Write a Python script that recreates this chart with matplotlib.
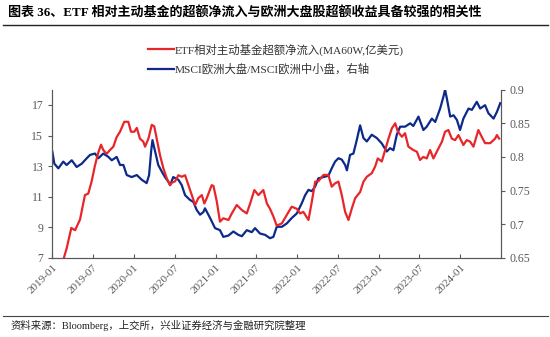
import matplotlib
matplotlib.use('Agg')
import matplotlib.pyplot as plt
import matplotlib.dates as mdates
import pandas as pd
from matplotlib.lines import Line2D

# ETF相对主动基金超额净流入(MA60W,亿美元)，左轴
etf_dates = ['2019-02-22', '2019-03-06', '2019-03-27', '2019-04-13', '2019-05-05', '2019-05-27',
             '2019-06-11', '2019-06-26', '2019-07-11', '2019-07-26', '2019-08-07', '2019-08-17',
             '2019-09-01', '2019-09-16', '2019-10-01', '2019-10-16', '2019-10-31', '2019-11-19',
             '2019-12-07', '2019-12-19', '2020-01-03', '2020-01-14', '2020-01-28', '2020-02-12',
             '2020-02-20', '2020-03-06', '2020-03-21', '2020-04-01', '2020-04-12', '2020-04-27',
             '2020-05-12', '2020-05-27', '2020-06-11', '2020-06-18', '2020-07-03', '2020-07-18',
             '2020-08-02', '2020-08-17', '2020-09-01', '2020-09-16', '2020-10-01', '2020-10-15',
             '2020-10-31', '2020-11-11', '2020-11-22', '2020-12-14', '2020-12-22', '2021-01-06',
             '2021-01-20', '2021-02-04', '2021-02-27', '2021-03-14', '2021-04-05', '2021-04-28',
             '2021-05-20', '2021-06-04', '2021-06-23', '2021-07-11', '2021-08-02', '2021-08-18',
             '2021-09-01', '2021-09-16', '2021-10-01', '2021-10-24', '2021-11-15', '2021-12-07',
             '2021-12-30', '2022-01-13', '2022-01-28', '2022-02-20', '2022-03-07', '2022-03-22',
             '2022-04-05', '2022-04-28', '2022-05-20', '2022-06-04', '2022-06-19', '2022-07-04',
             '2022-07-19', '2022-08-03', '2022-08-18', '2022-09-02', '2022-09-17', '2022-10-09',
             '2022-10-24', '2022-11-08', '2022-11-30', '2022-12-15', '2022-12-27', '2023-01-14',
             '2023-01-29', '2023-02-13', '2023-02-28', '2023-03-15', '2023-03-27', '2023-04-14',
             '2023-04-28', '2023-05-13', '2023-06-04', '2023-06-20', '2023-07-04', '2023-07-19',
             '2023-08-03', '2023-08-18', '2023-09-02', '2023-09-17', '2023-10-10', '2023-10-24',
             '2023-11-08', '2023-11-23', '2023-12-08', '2023-12-23', '2024-01-14', '2024-01-29',
             '2024-02-13', '2024-02-28', '2024-03-21', '2024-04-05', '2024-04-20', '2024-05-13',
             '2024-06-04', '2024-06-12', '2024-06-22']
etf_vals = [7.0, 7.6, 8.95, 8.8, 9.5, 11.1,
            11.2, 12.0, 13.05, 13.9, 14.4, 14.05,
            13.8, 14.05, 14.27, 14.9, 15.25, 15.9,
            15.9, 15.25, 15.25, 15.5, 14.8, 14.6,
            14.27, 14.8, 15.7, 15.6, 14.8, 13.7,
            12.85, 12.2, 11.75, 11.9, 12.0, 12.4,
            12.3, 12.4, 11.75, 11.1, 10.45, 10.9,
            11.1, 10.55, 10.9, 11.75, 11.7, 10.67,
            9.36, 9.58, 9.47, 9.9, 10.45, 10.12,
            9.9, 10.55, 11.43, 11.1, 11.43, 10.55,
            10.2, 9.7, 9.1, 9.25, 9.8, 10.34,
            10.2, 9.9, 10.0, 9.47, 10.67, 11.98,
            12.0, 12.42, 12.42, 11.65, 11.87, 11.98,
            11.1, 10.0, 9.47, 10.23, 10.9, 11.3,
            11.98, 12.3, 12.53, 12.96, 13.5, 13.3,
            14.05, 14.8, 15.47, 15.8, 15.25, 14.92,
            15.15, 14.27, 14.05, 13.94, 13.4, 13.6,
            13.5, 14.05, 13.5, 13.94, 14.6, 15.25,
            15.36, 14.8, 14.7, 15.03, 14.38, 14.7,
            14.6, 14.27, 15.36, 14.92, 14.5, 14.5,
            14.8, 15.03, 14.8]

# MSCI欧洲大盘/MSCI欧洲中小盘，右轴
msci_dates = ['2019-01-01', '2019-01-10', '2019-01-28', '2019-02-19', '2019-03-06', '2019-03-29',
              '2019-04-20', '2019-05-13', '2019-06-04', '2019-06-19', '2019-07-11', '2019-07-26',
              '2019-08-17', '2019-09-09', '2019-09-24', '2019-10-16', '2019-10-31', '2019-11-15',
              '2019-11-30', '2019-12-22', '2020-01-14', '2020-02-05', '2020-02-27', '2020-03-09',
              '2020-03-18', '2020-03-24', '2020-04-05', '2020-04-19', '2020-05-05', '2020-05-19',
              '2020-06-03', '2020-06-11', '2020-06-25', '2020-07-18', '2020-08-02', '2020-08-17',
              '2020-09-08', '2020-09-23', '2020-10-08', '2020-10-23', '2020-11-07', '2020-11-14',
              '2020-12-07', '2020-12-29', '2021-01-20', '2021-02-04', '2021-02-27', '2021-03-21',
              '2021-04-12', '2021-04-28', '2021-05-20', '2021-06-11', '2021-06-26', '2021-07-18',
              '2021-08-10', '2021-09-01', '2021-09-16', '2021-10-01', '2021-10-24', '2021-11-15',
              '2021-12-07', '2021-12-30', '2022-01-21', '2022-02-05', '2022-02-20', '2022-03-07',
              '2022-03-22', '2022-04-05', '2022-04-28', '2022-05-20', '2022-06-04', '2022-06-19',
              '2022-07-04', '2022-07-19', '2022-08-03', '2022-08-11', '2022-08-25', '2022-09-09',
              '2022-09-24', '2022-10-09', '2022-10-24', '2022-11-08', '2022-11-30', '2022-12-23',
              '2023-01-14', '2023-02-05', '2023-02-20', '2023-03-07', '2023-03-22', '2023-04-06',
              '2023-04-28', '2023-05-21', '2023-06-04', '2023-06-27', '2023-07-19', '2023-08-03',
              '2023-08-26', '2023-09-10', '2023-10-02', '2023-10-17', '2023-10-24', '2023-11-01',
              '2023-11-16', '2023-12-01', '2023-12-16', '2023-12-30', '2024-01-14', '2024-02-06',
              '2024-02-21', '2024-03-14', '2024-03-29', '2024-04-20', '2024-05-05', '2024-05-28',
              '2024-06-12', '2024-06-27']
msci_vals = [0.808, 0.790, 0.783, 0.793, 0.788, 0.795,
             0.785, 0.790, 0.798, 0.803, 0.805, 0.798,
             0.805, 0.800, 0.795, 0.800, 0.788, 0.788,
             0.773, 0.770, 0.773, 0.766, 0.761, 0.773,
             0.808, 0.825, 0.808, 0.788, 0.778, 0.770,
             0.763, 0.758, 0.770, 0.766, 0.758, 0.743,
             0.736, 0.733, 0.721, 0.714, 0.718, 0.7235,
             0.709, 0.694, 0.691, 0.681, 0.683, 0.689,
             0.684, 0.682, 0.691, 0.688, 0.694, 0.686,
             0.684, 0.679, 0.681, 0.696, 0.696, 0.701,
             0.709, 0.716, 0.731, 0.743, 0.751, 0.749,
             0.756, 0.768, 0.770, 0.772, 0.783, 0.793,
             0.798, 0.796, 0.788, 0.780, 0.803, 0.805,
             0.825, 0.847, 0.828, 0.823, 0.833, 0.828,
             0.820, 0.808, 0.813, 0.810, 0.833, 0.845,
             0.845, 0.850, 0.846, 0.860, 0.840, 0.845,
             0.857, 0.852, 0.872, 0.890, 0.900, 0.887,
             0.860, 0.862, 0.855, 0.840, 0.857, 0.872,
             0.870, 0.882, 0.872, 0.877, 0.865, 0.857,
             0.867, 0.880]

red = '#E8262A'
blue = '#0C2A8C'
grey = '#595959'
serif_cjk = ['Liberation Serif', 'Noto Sans CJK SC']

fig = plt.figure(figsize=(5.5, 3.37), dpi=100)
ax = fig.add_axes([0.0951, 0.2353, 0.8153, 0.4985])
ax2 = ax.twinx()

ax.plot(pd.to_datetime(etf_dates), etf_vals, color=red, lw=1.6, zorder=3)
ax2.plot(pd.to_datetime(msci_dates), msci_vals, color=blue, lw=1.6)
ax.set_zorder(ax2.get_zorder() + 1)
ax.patch.set_visible(False)

ax.set_xlim(pd.Timestamp('2019-01-01'), pd.Timestamp('2024-06-29'))
ax.set_ylim(7, 18)
ax.set_yticks([7, 9, 11, 13, 15, 17])
ax2.set_ylim(0.65, 0.9)
ax2.set_yticks([0.65, 0.7, 0.75, 0.8, 0.85, 0.9])
ax2.set_yticklabels(['0.65', '0.7', '0.75', '0.8', '0.85', '0.9'])

ax.xaxis.set_major_locator(mdates.MonthLocator(bymonth=[1, 7]))
ax.xaxis.set_major_formatter(mdates.DateFormatter('%Y-%m'))

for a in (ax, ax2):
    a.spines['top'].set_visible(False)
    for s in ('left', 'right', 'bottom'):
        a.spines[s].set_color(grey)
        a.spines[s].set_linewidth(0.8)
ax.tick_params(axis='x', direction='in', length=3, color=grey, labelcolor=grey, pad=4)
ax.tick_params(axis='y', direction='out', length=3, color=grey, labelcolor=grey, labelsize=8.5)
ax2.tick_params(axis='y', direction='out', length=3, color=grey, labelcolor=grey, labelsize=8.5)
for lab in ax.get_xticklabels():
    lab.set_rotation(45)
    lab.set_ha('right')
    lab.set_rotation_mode('anchor')
    lab.set_fontsize(8)
    lab.set_family('Liberation Serif')
for lab in ax.get_yticklabels() + ax2.get_yticklabels():
    lab.set_family('Liberation Serif')

# 图例
handles = [Line2D([], [], color=red, lw=1.6), Line2D([], [], color=blue, lw=1.6)]
labels = ['ETF相对主动基金超额净流入(MA60W,亿美元)', 'MSCI欧洲大盘/MSCI欧洲中小盘，右轴']
fig.legend(handles, labels, loc='upper left', bbox_to_anchor=(0.25, 0.902), frameon=False,
           prop={'family': serif_cjk, 'size': 8.2}, handlelength=2.3, handletextpad=0.1,
           labelspacing=0.7, labelcolor='#333333')

# 标题与来源
fig.text(0.015, 0.962, '图表 36、ETF 相对主动基金的超额净流入与欧洲大盘股超额收益具备较强的相关性',
         family=serif_cjk, fontsize=9.4, fontweight='bold', va='center', ha='left')
fig.add_artist(Line2D([0.005, 0.997], [0.925, 0.925], color='#222222', lw=1.0))
fig.add_artist(Line2D([0.005, 0.997], [0.063, 0.063], color='#444444', lw=0.8))
fig.text(0.02, 0.033, '资料来源：Bloomberg，上交所，兴业证券经济与金融研究院整理',
         family=serif_cjk, fontsize=7.5, va='center', ha='left', color='#222222')

fig.savefig('out.png', dpi=100)
